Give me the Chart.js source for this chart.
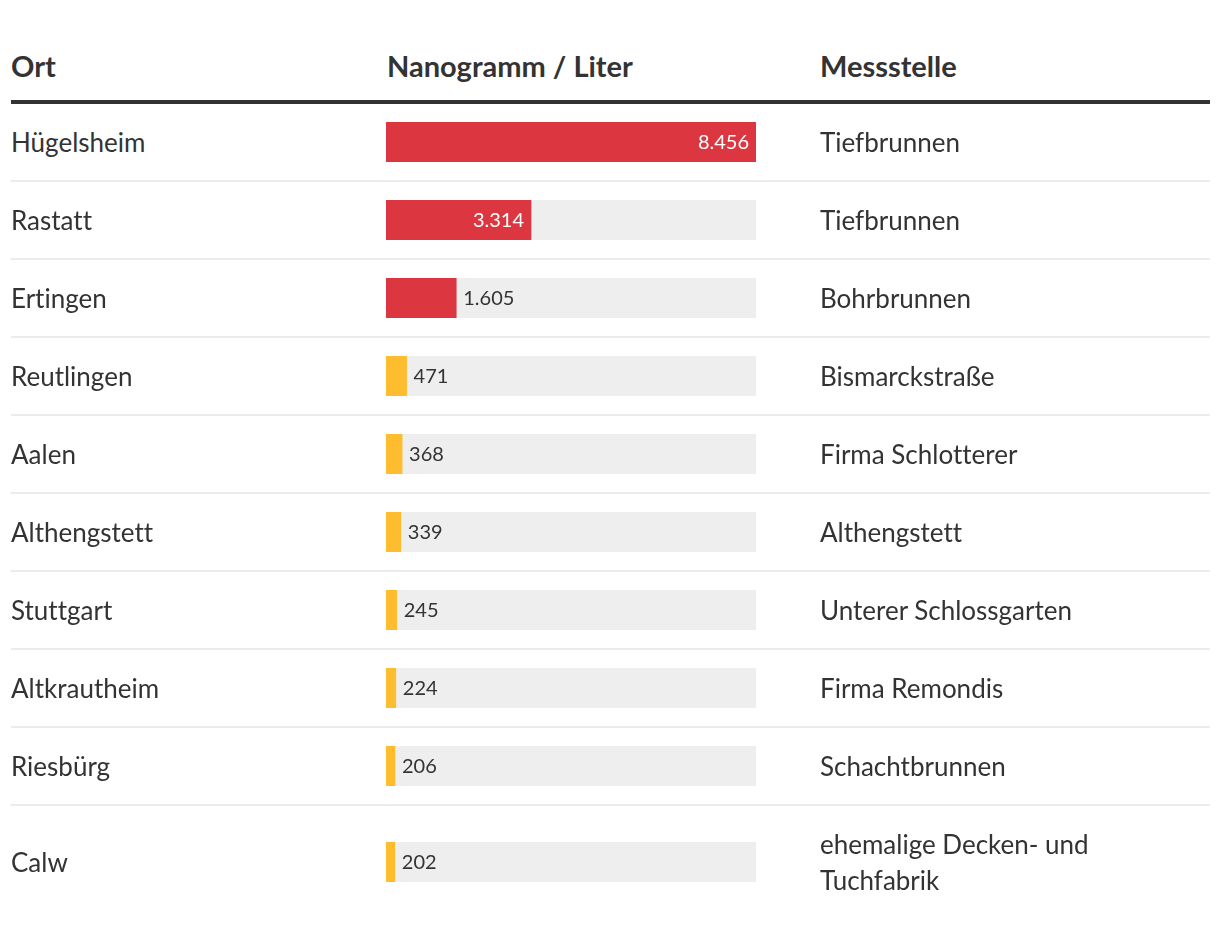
<!DOCTYPE html>
<html lang="de">
<head>
<meta charset="utf-8">
<script src="https://cdn.jsdelivr.net/npm/chart.js@4/dist/chart.umd.min.js"></script>
<style>
  body { margin: 0; background: #fff; font-family: Lato, "Noto Sans", sans-serif; color: #333; font-variant-ligatures: none; }
  #tabelle { position: absolute; left: 11px; top: 0; width: 1199px; }
  .kopf { height: 100px; border-bottom: 4px solid #333; display: flex; align-items: flex-end; font-weight: bold; font-size: 29px; }
  .kopf div { padding-bottom: 18px; line-height: 32px; }
  .zeile { display: flex; align-items: center; border-bottom: 2px solid #ececec; padding: 0; font-size: 26px; line-height: 36px; }
  .zeile:last-child { border-bottom: none; }
  .zeile .ort, .zeile .mess { padding: 20px 0; }
  .ort { width: 375px; }
  .balken { width: 370px; height: 40px; margin-right: 64px; }
  .balken canvas { display: block; }
  .mess { width: 390px; white-space: pre-line; }
  .kopf .ort { width: 376px; }
  .kopf .balkenkopf { width: 433px; }
</style>
</head>
<body>
<div id="tabelle">
  <div class="kopf"><div class="ort">Ort</div><div class="balkenkopf">Nanogramm / Liter</div><div class="mess">Messstelle</div></div>
</div>
<script>
// Werte aus der Tabelle
const orte = ["Hügelsheim", "Rastatt", "Ertingen", "Reutlingen", "Aalen", "Althengstett", "Stuttgart", "Altkrautheim", "Riesbürg", "Calw"];
const werte = [8456, 3314, 1605, 471, 368, 339, 245, 224, 206, 202];
const messstellen = ["Tiefbrunnen", "Tiefbrunnen", "Bohrbrunnen", "Bismarckstraße", "Firma Schlotterer", "Althengstett", "Unterer Schlossgarten", "Firma Remondis", "Schachtbrunnen", "ehemalige Decken- und\nTuchfabrik"];

const ROT = "#dc3741";
const GELB = "#fdbd2e";
const SPUR = "#eeeeee";
const maxWert = Math.max(...werte);

function formatZahl(v) {
    return v.toLocaleString("de-DE");
}

// Beschriftung: innen (weiss, rechtsbuendig) wenn sie passt, sonst aussen
const labelPlugin = {
    id: "wertLabel",
    afterDatasetsDraw(chart) {
        const ctx = chart.ctx;
        const bar = chart.getDatasetMeta(0).data[0];
        const v = chart.data.datasets[0].data[0];
        const text = formatZahl(v);
        ctx.save();
        ctx.font = "20px Lato, 'Noto Sans', sans-serif";
        ctx.textBaseline = "middle";
        const w = ctx.measureText(text).width;
        const breite = bar.x - bar.base;
        if (breite >= w + 20) {
            ctx.fillStyle = "#fff";
            ctx.textAlign = "right";
            ctx.fillText(text, bar.x - 7, bar.y + 1);
        } else {
            ctx.fillStyle = "#333";
            ctx.textAlign = "left";
            ctx.fillText(text, bar.x + 7, bar.y + 1);
        }
        ctx.restore();
    }
};

const tabelle = document.getElementById("tabelle");

for (var i = 0; i < orte.length; i++) {
    const zeile = document.createElement("div");
    zeile.className = "zeile";
    zeile.innerHTML = '<div class="ort"></div><div class="balken"><canvas width="370" height="40"></canvas></div><div class="mess"></div>';
    zeile.querySelector(".ort").textContent = orte[i];
    zeile.querySelector(".mess").textContent = messstellen[i];
    tabelle.appendChild(zeile);

    const ctx = zeile.querySelector("canvas").getContext("2d");
    new Chart(ctx, {
        type: "bar",
        data: {
            labels: [orte[i]],
            datasets: [
                {
                    data: [werte[i]],
                    backgroundColor: werte[i] > 1000 ? ROT : GELB,
                    barPercentage: 1,
                    categoryPercentage: 1,
                    grouped: false,
                    order: 0
                },
                {
                    data: [maxWert],
                    backgroundColor: SPUR,
                    barPercentage: 1,
                    categoryPercentage: 1,
                    grouped: false,
                    order: 1
                }
            ]
        },
        options: {
            indexAxis: "y",
            responsive: false,
            animation: false,
            layout: { padding: 0 },
            scales: {
                x: { display: false, min: 0, max: maxWert },
                y: { display: false }
            },
            plugins: { legend: { display: false }, tooltip: { enabled: false } }
        },
        plugins: [labelPlugin]
    });
}
</script>
</body>
</html>
